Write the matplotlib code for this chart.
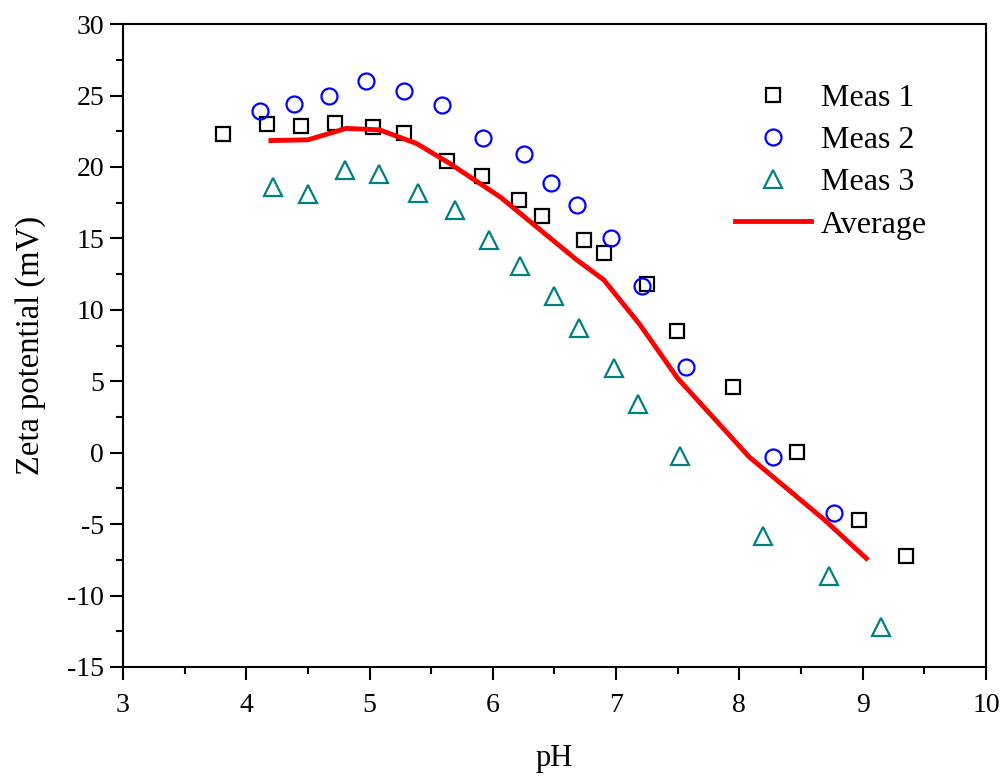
import matplotlib
matplotlib.use('Agg')
import matplotlib.pyplot as plt
from matplotlib.ticker import MultipleLocator

# values
ph1 = [3.81, 4.17, 4.44, 4.72, 5.03, 5.28, 5.63, 5.91, 6.21, 6.40, 6.74, 6.90, 7.25, 7.49, 7.95, 8.47, 8.97, 9.35]
zeta1 = [22.3, 23.0, 22.9, 23.1, 22.8, 22.4, 20.4, 19.4, 17.7, 16.6, 14.9, 14.0, 11.8, 8.5, 4.6, 0.05, -4.7, -7.2]

ph2 = [4.11, 4.39, 4.67, 4.97, 5.28, 5.59, 5.92, 6.25, 6.47, 6.68, 6.96, 7.21, 7.57, 8.27, 8.77]
zeta2 = [23.9, 24.4, 25.0, 26.0, 25.3, 24.35, 22.0, 20.9, 18.9, 17.35, 15.0, 11.7, 6.0, -0.28, -4.2]

ph3 = [4.22, 4.50, 4.80, 5.08, 5.39, 5.69, 5.97, 6.22, 6.50, 6.70, 6.98, 7.18, 7.52, 8.19, 8.73, 9.15]
zeta3 = [18.6, 18.1, 19.8, 19.5, 18.2, 17.0, 14.9, 13.1, 11.0, 8.7, 5.9, 3.4, -0.2, -5.8, -8.6, -12.2]

ph_avg = [4.20, 4.50, 4.81, 5.08, 5.38, 5.65, 6.06, 6.68, 6.90, 7.19, 7.50, 8.08, 8.69, 9.03]
zeta_avg = [21.85, 21.9, 22.7, 22.6, 21.65, 20.25, 17.9, 13.5, 12.1, 9.0, 5.2, -0.3, -4.7, -7.4]

plt.rcParams['font.family'] = ['Liberation Serif', 'DejaVu Serif']
plt.rcParams['axes.unicode_minus'] = False


def main():
    fig = plt.figure(figsize=(10.04, 7.78), dpi=100)
    ax = fig.add_axes([0.1225, 0.1427, 0.8595, 0.8263])

    ax.plot(ph1, zeta1, 's', mfc='none', mec='black', ms=10, mew=1.6, ls='none', label='Meas 1')
    ax.plot(ph2, zeta2, 'o', mfc='none', mec='#0000ff', ms=11.5, mew=1.6, ls='none', label='Meas 2')
    ax.plot(ph3, zeta3, '^', mfc='none', mec='#008080', ms=13, mew=1.6, ls='none', label='Meas 3')
    ax.plot(ph_avg, zeta_avg, color='#ff0000', lw=3.5, label='Average')

    ax.set_xlim(3, 10)
    ax.set_ylim(-15, 30)
    ax.xaxis.set_major_locator(MultipleLocator(1))
    ax.xaxis.set_minor_locator(MultipleLocator(0.5))
    ax.yaxis.set_major_locator(MultipleLocator(5))
    ax.yaxis.set_minor_locator(MultipleLocator(2.5))
    ax.tick_params(which='both', direction='out', width=1.5, labelsize=20, top=False, right=False)
    ax.tick_params(which='major', length=9.5, pad=4)
    ax.tick_params(which='minor', length=5)
    ax.tick_params(axis='x', which='major', pad=9)
    for sp in ax.spines.values():
        sp.set_linewidth(1.5)

    ax.set_xlabel('pH', fontsize=22, labelpad=19)
    ax.set_ylabel('Zeta potential (mV)', fontsize=23.5, labelpad=15)

    ax.legend(loc='upper right', bbox_to_anchor=(0.965, 0.952), frameon=False, fontsize=23,
              handlelength=2.4, handletextpad=0.3, labelspacing=0.4)

    plt.savefig('out.png', dpi=100)


if __name__ == '__main__':
    main()
